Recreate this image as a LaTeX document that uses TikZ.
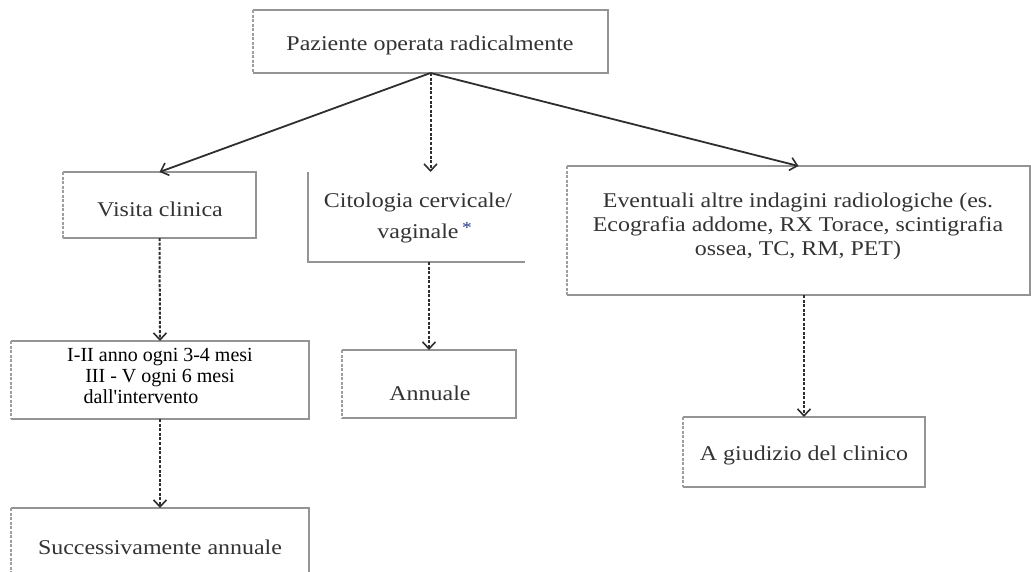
\documentclass[tikz,border=0pt]{standalone}
\usepackage{fontspec}
\setmainfont[FakeStretch=1.14]{Liberation Serif}
\newfontfamily\plainserif{Liberation Serif}
\usetikzlibrary{arrows.meta}
\definecolor{starblue}{rgb}{0.15,0.22,0.55}

\begin{document}
\begin{tikzpicture}[x=1pt,y=-1pt,
  frame/.style={draw=none, inner sep=0pt, outer sep=0pt},
  lbl/.style={inner sep=0pt, align=center, text=black!80, font=\fontsize{21}{24}\selectfont},
  edge/.style={draw=black!42, line width=1.6pt},
  ledge/.style={draw=black!38, line width=1.3pt, dash pattern=on 3pt off 1.5pt},
  head/.style={-{Straight Barb[length=7pt,width=13pt,line width=1.6pt]}},
  solidarrow/.style={head, draw=black!82, line width=1.8pt},
  dasharrow/.style={head, draw=black!82, line width=2pt, dash pattern=on 3pt off 1.6pt}]

\useasboundingbox (0,0) rectangle (1031,571);
\clip (0,0) rectangle (1031,571);

% box outlines
\node[frame, minimum width=355pt, minimum height=63pt]  (top)      at (430.5,41.5) {};
\node[frame, minimum width=193pt, minimum height=66pt]  (visita)   at (159.5,205)  {};
\node[frame, minimum width=217pt, minimum height=90pt]  (cito)     at (416.5,217)  {};
\node[frame, minimum width=463pt, minimum height=129pt] (event)    at (798.5,230.5) {};
\node[frame, minimum width=298pt, minimum height=78pt]  (anni)     at (160,380)    {};
\node[frame, minimum width=174pt, minimum height=68pt]  (annuale)  at (429,384)    {};
\node[frame, minimum width=242pt, minimum height=70pt]  (giudizio) at (804,452)    {};
\node[frame, minimum width=298pt, minimum height=92pt]  (succ)     at (160,554)    {};

\foreach \n in {top,visita,event,anni,annuale,giudizio,succ} {
  \draw[edge] (\n.south west) -| (\n.north east) -- (\n.north west);
  \draw[ledge] (\n.north west) -- (\n.south west);
}
\draw[edge] (cito.north west) -- (cito.south west) -- (cito.south east);

% texts
\node[lbl] (top-t)      at (430,45)  {Paziente operata radicalmente};
\node[lbl] (visita-t)   at (160,209) {Visita clinica};
\node[lbl, font=\fontsize{21}{31}\selectfont] (cito-t) at (418,217.5)
  {Citologia cervicale/\\vaginale\rlap{\,\textcolor{starblue}{\raisebox{5pt}{\fontsize{17}{17}\selectfont *}}}};
\node[lbl] (event-t)    at (798,226)
  {Eventuali altre indagini radiologiche (es.\\Ecografia addome, RX Torace, scintigrafia\\ossea, TC, RM, PET)};
\node[lbl, text=black, font=\plainserif\fontsize{20}{21}\selectfont] (anni-t) at (160,376)
  {I-II anno ogni 3-4 mesi\\III - V ogni 6 mesi\\dall'intervento\hspace{38pt}\mbox{}};
\node[lbl] (annuale-t)  at (430,393) {Annuale};
\node[lbl] (giudizio-t) at (804,455) {A giudizio del clinico};
\node[lbl] (succ-t)     at (160,547) {Successivamente annuale};

% connectors
\draw[solidarrow] (top.south) -- (visita.north);
\draw[dasharrow]  (top.south) -- (top.south |- cito.north);
\draw[solidarrow] (top.south) -- (event.north);
\draw[dasharrow]  (visita.south) -- (anni.north);
\draw[dasharrow]  (anni.south) -- (succ.north);
\draw[dasharrow]  (annuale.north |- cito.south) -- (annuale.north);
\draw[dasharrow]  (giudizio.north |- event.south) -- (giudizio.north);
\end{tikzpicture}
\end{document}
